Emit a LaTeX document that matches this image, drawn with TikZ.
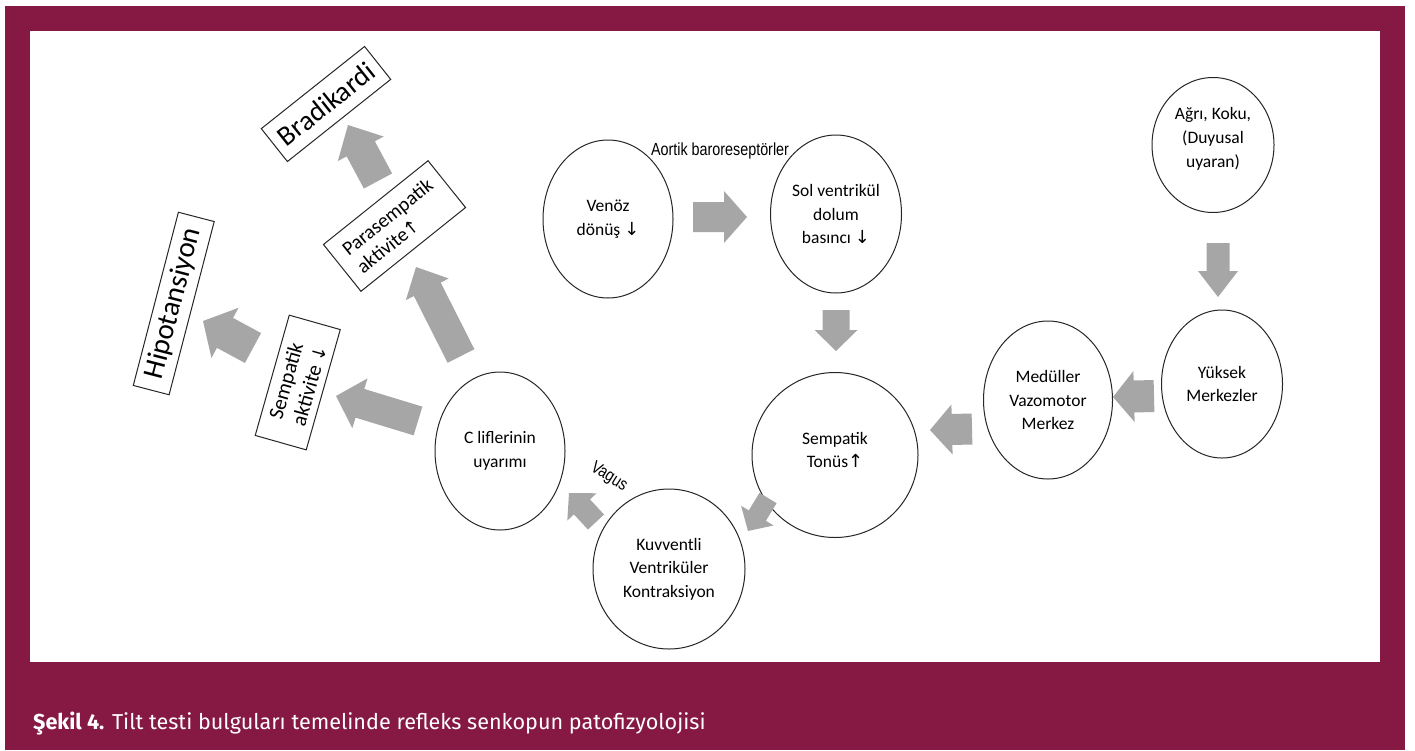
\documentclass[tikz,border=0pt]{standalone}
\usepackage{fontspec}
\setmainfont{Carlito}
\newfontfamily\narrowfont[FakeStretch=0.82]{Liberation Sans}
\newfontfamily\symfont{DejaVu Sans}
\newfontfamily\capfont{Fira Sans}
\usetikzlibrary{shapes.geometric,calc}

\definecolor{framered}{RGB}{134,25,67}
\definecolor{arrowgray}{RGB}{166,166,166}

% thin arrows used inside the labels
\newcommand{\arrdn}{{\symfont\fontsize{18}{18}\selectfont ↓}}
\newcommand{\arrup}{{\symfont\fontsize{18}{18}\selectfont ↑}}

% block arrow: #1 tail, #2 tip, #3 shaft width, #4 head width, #5 head length
\newcommand{\fatarrow}[5]{%
  \fill[arrowgray] let \p1=(#1), \p2=(#2),
    \n1={atan2(\y2-\y1,\x2-\x1)}, \n2={veclen(\x2-\x1,\y2-\y1)} in
    ($(#1)+(\n1+90:{0.5*#3pt})$) --
    ($(#1)+(\n1:{\n2*1pt-#5pt})+(\n1+90:{0.5*#3pt})$) --
    ($(#1)+(\n1:{\n2*1pt-#5pt})+(\n1+90:{0.5*#4pt})$) --
    (#2) --
    ($(#1)+(\n1:{\n2*1pt-#5pt})+(\n1-90:{0.5*#4pt})$) --
    ($(#1)+(\n1:{\n2*1pt-#5pt})+(\n1-90:{0.5*#3pt})$) --
    ($(#1)+(\n1-90:{0.5*#3pt})$) -- cycle;}

\tikzset{
  bub/.style={ellipse, draw=black!85, line width=1pt, inner sep=0pt,
    align=center, font=\fontsize{17.5}{23.5}\selectfont},
  tbox/.style={rectangle, draw=black!85, line width=1pt, inner sep=0pt},
  lbl/.style={inner sep=0pt, font=\narrowfont\fontsize{17.5}{20}\selectfont}
}

\begin{document}
\begin{tikzpicture}[x=1pt, y=-1pt]
\useasboundingbox (0,0) rectangle (1415,750);
\fill[white] (0,0) rectangle (1415,750);

% frame and caption panel
\fill[framered] (5,6) rectangle (1405,750);
\fill[white] (30,31) rectangle (1380,662);
\node[anchor=base west, inner sep=0pt, text=white,
  font=\capfont\fontsize{21.6}{26}\selectfont] (caption) at (33,729)
  {\textbf{Şekil 4.} Tilt testi bulguları temelinde refleks senkopun patofizyolojisi};

% bubbles
\node[bub, minimum width=130pt, minimum height=158pt] (venoz) at (608,219)
  {Venöz\\dönüş \arrdn};
\node[bub, minimum width=131pt, minimum height=158pt] (sol) at (836,214)
  {Sol ventrikül\\dolum\\basıncı \arrdn};
\node[bub, minimum width=122pt, minimum height=135pt] (agri) at (1213,145) {};
\node[inner sep=0pt, align=center, font=\fontsize{17.5}{24}\selectfont]
  (agritext) at (1213,139) {Ağrı, Koku,\\(Duyusal\\uyaran)};
\node[bub, minimum width=121pt, minimum height=148pt] (yuksek) at (1222,384)
  {Yüksek\\Merkezler};
\node[bub, minimum width=129pt, minimum height=158pt] (medul) at (1048,400)
  {Medüller\\Vazomotor\\Merkez};
\node[bub, minimum width=166pt, minimum height=165pt] (sempt) at (835,455) {};
\node[inner sep=0pt, align=center, font=\fontsize{17.5}{23.5}\selectfont]
  (semptext) at (835,450) {Sempatik\\Tonüs\arrup};
\node[bub, minimum width=152pt, minimum height=160pt] (kuvv) at (669,569)
  {Kuvventli\\Ventriküler\\Kontraksiyon};
\node[bub, minimum width=130pt, minimum height=158pt] (clif) at (500,451)
  {C liflerinin\\uyarımı};

% rotated result boxes
\node[tbox, rotate=38.5, minimum width=132pt, minimum height=42pt,
  font=\fontsize{28}{30}\selectfont] (brady) at (326,104) {Bradikardi};
\node[tbox, rotate=38.7, minimum width=134pt, minimum height=60pt, align=left,
  font=\fontsize{20}{23}\selectfont] (para) at (394.5,226)
  {Parasempatik\\aktivite\arrup};
\node[tbox, rotate=74.2, minimum width=125pt, minimum height=53pt, align=left,
  font=\fontsize{21}{24}\selectfont] (sakt) at (297.75,382.5)
  {Sempatik\\aktivite \arrdn};
\node[tbox, rotate=75.4, minimum width=179pt, minimum height=37pt,
  font=\fontsize{29}{30}\selectfont] (hipo) at (173.75,303.5) {Hipotansiyon};

% free labels
\node[lbl] (aortik) at (720,151) {Aortik baroreseptörler};
\node[lbl, rotate=-32] (vagus) at (609,477) {Vagus};

% end points of the block arrows
\coordinate (a1t) at (693,217);  \coordinate (a1h) at (747,217);
\coordinate (a2t) at (836,310);  \coordinate (a2h) at (836,351);
\coordinate (a3t) at (1218,243); \coordinate (a3h) at (1218,297);
\coordinate (a4t) at (1154,396); \coordinate (a4h) at (1113,397);
\coordinate (a5t) at (972,429);  \coordinate (a5h) at (930,430);
\coordinate (a6t) at (768,498);  \coordinate (a6h) at (748,531);
\coordinate (a7t) at (596,522);  \coordinate (a7h) at (569,493);
\coordinate (a8t) at (418,421);  \coordinate (a8h) at (336,396);
\coordinate (a9t) at (461,356);  \coordinate (a9h) at (416,267);
\coordinate (a10t) at (378,181); \coordinate (a10h) at (348,125);
\coordinate (a11t) at (253,348); \coordinate (a11h) at (203,321);

\fatarrow{a1t}{a1h}{30}{52}{23}
\fatarrow{a2t}{a2h}{27}{43}{21}
\fatarrow{a3t}{a3h}{23}{40}{26}
\fatarrow{a4t}{a4h}{32}{51}{21}
\fatarrow{a5t}{a5h}{31}{50}{22}
\fatarrow{a6t}{a6h}{20}{38}{18}
\fatarrow{a7t}{a7h}{22}{40}{19}
\fatarrow{a8t}{a8h}{30}{52}{25}
\fatarrow{a9t}{a9h}{30}{48}{25}
\fatarrow{a10t}{a10h}{32}{52}{27}
\fatarrow{a11t}{a11h}{34}{57}{25}
\end{tikzpicture}
\end{document}
